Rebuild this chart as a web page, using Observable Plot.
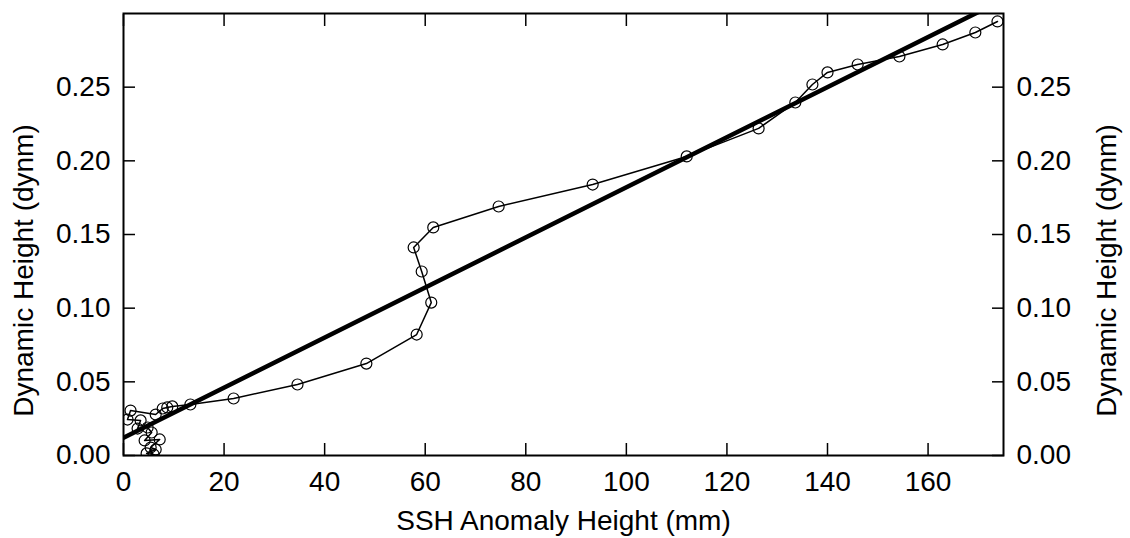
<!DOCTYPE html>
<html><head><meta charset="utf-8">
<script src="https://cdn.jsdelivr.net/npm/d3@7"></script>
<script src="https://cdn.jsdelivr.net/npm/@observablehq/plot@0.6"></script>
<style>body{margin:0;background:#fff;} svg{display:block;}</style>
</head><body><div id="chart"></div>
<script>
const sshAnomaly = [173.8, 169.4, 162.9, 154.3, 146.0, 140.0, 137.0, 133.6, 126.3, 112.0, 93.3, 74.6, 61.6, 57.7, 59.3, 61.2, 58.3, 48.3, 34.6, 21.9, 13.3, 9.7, 8.7, 7.8, 6.4, 1.4, 0.8, 3.4, 2.8, 4.8, 5.6, 4.2, 7.2, 5.4, 6.4, 4.6, 6.0];
const dynamicHeight = [0.2946, 0.2871, 0.2790, 0.2708, 0.2654, 0.2600, 0.2518, 0.2396, 0.2220, 0.2030, 0.1839, 0.1690, 0.1548, 0.1412, 0.1249, 0.1038, 0.0821, 0.0624, 0.0482, 0.0387, 0.0346, 0.0333, 0.0326, 0.0319, 0.0278, 0.0305, 0.0244, 0.0238, 0.0183, 0.0190, 0.0156, 0.0102, 0.0109, 0.0054, 0.0041, 0.0014, 0.0007];
const fitSSH = [0, 175];
const fitDynamic = [0.012, 0.3095];
const xTicks = [0, 20, 40, 60, 80, 100, 120, 140, 160];
const yTicks = [0, 0.05, 0.10, 0.15, 0.20, 0.25];
const xLabel = "SSH Anomaly Height (mm)";
const yLabel = "Dynamic Height (dynm)";

const profile = sshAnomaly.map((x, i) => ({x, y: dynamicHeight[i]}));
const fit = fitSSH.map((x, i) => ({x, y: fitDynamic[i]}));
const fmt = d3.format(".2f");
const FS = 28;

const chart = Plot.plot({
  width: 1130, height: 538,
  marginLeft: 123, marginRight: 127, marginTop: 13, marginBottom: 83,
  style: {fontFamily: "'Liberation Sans', Arial, sans-serif", fontSize: FS + "px", background: "white", color: "black"},
  x: {domain: [0, 175]},
  y: {domain: [0, 0.3]},
  marks: [
    Plot.line(fit, {x: "x", y: "y", stroke: "black", strokeWidth: 4.5, clip: true}),
    Plot.line(profile, {x: "x", y: "y", stroke: "black", strokeWidth: 1.5, clip: true}),
    Plot.dot(profile, {x: "x", y: "y", r: 5.5, stroke: "black", strokeWidth: 1.2, fill: "none", clip: true}),
    Plot.frame({stroke: "black", strokeWidth: 2}),
    Plot.axisX(xTicks, {anchor: "bottom", tickSize: -12, tickPadding: 28, label: null, fontSize: FS, strokeWidth: 1.5}),
    Plot.axisX(xTicks, {anchor: "top", tickSize: -12, tickFormat: () => "", label: null, strokeWidth: 1.5}),
    Plot.axisY(yTicks, {anchor: "left", tickSize: -12, tickPadding: 25, tickFormat: fmt, label: null, fontSize: FS, strokeWidth: 1.5}),
    Plot.axisY(yTicks, {anchor: "right", tickSize: -12, tickPadding: 25, tickFormat: fmt, label: null, fontSize: FS, strokeWidth: 1.5}),
    Plot.text([xLabel], {frameAnchor: "bottom", textAnchor: "middle", lineAnchor: "middle", dy: 66, text: d => d, fontSize: FS}),
    Plot.text([yLabel], {frameAnchor: "left", textAnchor: "middle", lineAnchor: "middle", rotate: -90, dx: -99, dy: 36, text: d => d, fontSize: FS}),
    Plot.text([yLabel], {frameAnchor: "right", textAnchor: "middle", lineAnchor: "middle", rotate: -90, dx: 104, dy: 36, text: d => d, fontSize: FS})
  ]
});
document.getElementById("chart").appendChild(chart);
</script>
</body></html>
